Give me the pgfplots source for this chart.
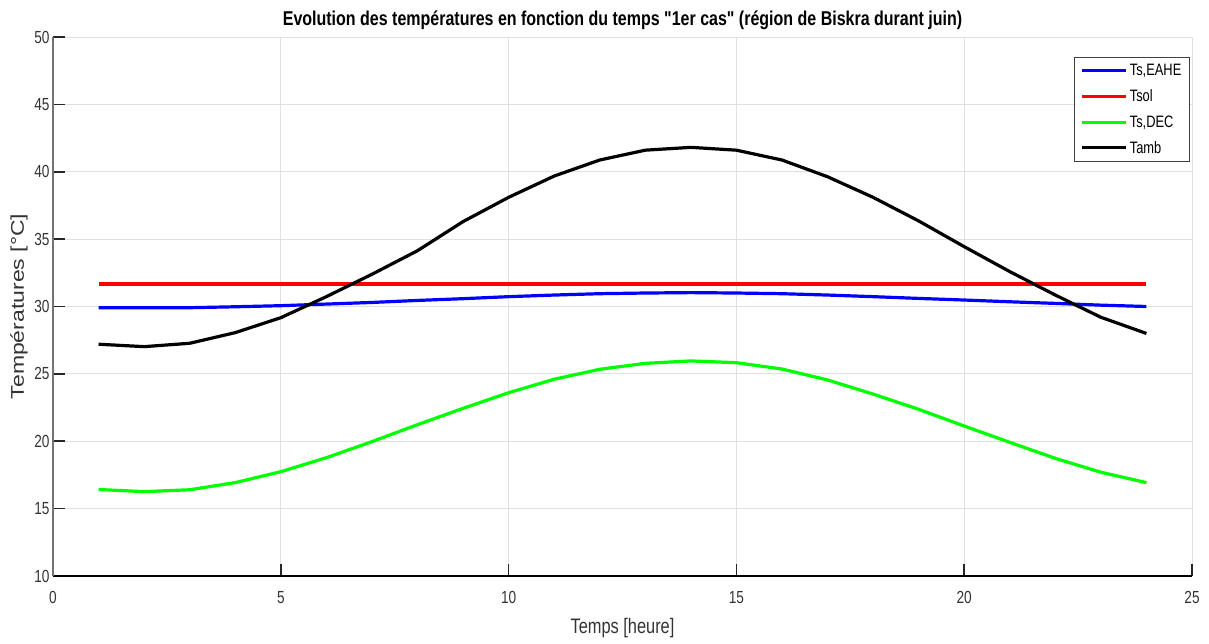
\documentclass[border=0pt]{standalone}
\usepackage{pgfplots}
\pgfplotsset{compat=1.18}
\usepackage{fontspec}
\setmainfont{Liberation Sans}[FakeStretch=0.78]
\newfontfamily\titlefont{Liberation Sans}[FakeStretch=0.80, Ligatures=TeXOff]
\newfontfamily\ylabfont{Liberation Sans}
\begin{document}
\begin{tikzpicture}
\begin{axis}[name=ax, scale only axis, width=1139pt, height=539pt,
 xmin=0, xmax=25, ymin=10, ymax=50,
 xtick={0,5,...,25}, ytick={10,15,...,50},
 grid=major, major grid style={color=black!12, line width=0.9pt},
 axis x line*=bottom, axis y line*=left,
 axis line style={-, line width=1.2pt},
 x axis line style={black}, y axis line style={black!55},
 tick align=inside, major tick length=12pt,
 tick style={black!85, line width=1.6pt},
 ticklabel style={font=\fontsize{17.5}{20}\selectfont, text=black!80},
 xticklabel style={yshift=-12pt},
 /pgf/number format/assume math mode=true,
 title={Evolution des températures en fonction du temps "1er cas" (région de Biskra durant juin)},
 title style={font=\titlefont\fontsize{20}{24}\selectfont\bfseries, at={(axis description cs:0.5,1)}, anchor=center, yshift=11pt},
 xlabel={Temps [heure]}, ylabel={Températures [°C]},
 xlabel style={font=\fontsize{21}{24}\selectfont, text=black!80, at={(axis description cs:0.5,0)}, anchor=center, yshift=-52pt},
 ylabel style={font=\ylabfont\fontsize{23}{26}\selectfont, text=black!80, at={(axis description cs:0,0.5)}, anchor=center, yshift=34pt, yscale=0.8},
 legend style={at={(rel axis cs:0.998,0.963)}, anchor=north east, font=\fontsize{16.5}{18}\selectfont, draw=black!75, line width=0.8pt, row sep=8.5pt, inner xsep=6pt, inner ysep=5pt},
 legend cell align=left,
 legend image code/.code={\draw[#1] (0pt,0pt) -- (44pt,0pt);},
 every axis plot/.append style={line width=3.2pt},
]
\addplot[blue] coordinates {(1,29.91)(2,29.90)(3,29.91)(4,29.98)(5,30.06)(6,30.18)(7,30.30)(8,30.45)(9,30.58)(10,30.73)(11,30.85)(12,30.95)(13,31.00)(14,31.03)(15,31.00)(16,30.95)(17,30.85)(18,30.73)(19,30.60)(20,30.48)(21,30.35)(22,30.23)(23,30.10)(24,30.00)};
\addlegendentry{Ts,EAHE}
\addplot[red] coordinates {(1,31.67)(24,31.67)};
\addlegendentry{Tsol}
\addplot[green] coordinates {(1,16.42)(2,16.26)(3,16.40)(4,16.93)(5,17.74)(6,18.78)(7,19.97)(8,21.23)(9,22.44)(10,23.60)(11,24.60)(12,25.34)(13,25.78)(14,25.96)(15,25.83)(16,25.36)(17,24.55)(18,23.50)(19,22.37)(20,21.13)(21,19.92)(22,18.73)(23,17.70)(24,16.93)};
\addlegendentry{Ts,DEC}
\addplot[black] coordinates {(1,27.20)(2,27.02)(3,27.27)(4,28.06)(5,29.17)(6,30.73)(7,32.39)(8,34.14)(9,36.30)(10,38.10)(11,39.68)(12,40.87)(13,41.60)(14,41.81)(15,41.60)(16,40.87)(17,39.63)(18,38.10)(19,36.35)(20,34.44)(21,32.59)(22,30.85)(23,29.20)(24,28.00)};
\addlegendentry{Tamb}
\end{axis}
\pgfresetboundingbox
\path ([shift={(-53pt,-68pt)}]ax.south west) rectangle ([shift={(17pt,37pt)}]ax.north east);
\end{tikzpicture}
\end{document}
